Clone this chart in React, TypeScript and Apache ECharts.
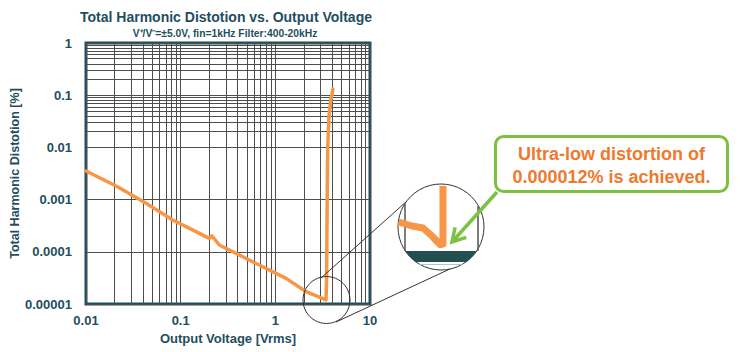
import React, { useEffect, useRef } from 'react';
import * as echarts from 'echarts';

// ---- data ----
const thdVoltage = [0.01, 0.0208, 0.0431, 0.0824, 0.145, 0.2, 0.214, 0.256, 0.576, 1.3, 2.11, 3.43, 3.48, 3.53, 3.57, 3.68, 3.86, 4.06];
const thdPercent = [0.00353, 0.00182, 0.000849, 0.000407, 0.000243, 0.000181, 0.000201, 0.000135, 0.0000646, 0.000031, 0.0000172, 0.000012, 0.00003, 0.001, 0.009, 0.038, 0.081, 0.131];

const xTickLabels = ['0.01', '0.1', '1', '10'];
const yTickLabels = ['0.00001', '0.0001', '0.001', '0.01', '0.1', '1'];
const minorMultipliers = [2, 3, 4, 5, 6, 7, 8, 9];
const xDecades = [0.01, 0.1, 1];
const yDecades = [0.00001, 0.0001, 0.001, 0.01, 0.1];

const titleText = 'Total Harmonic Distotion vs. Output Voltage';
const subtitleText = 'V\u207A/V\u207B=\u00B15.0V, fin=1kHz Filter:400-20kHz';
const xAxisName = 'Output Voltage [Vrms]';
const yAxisName = 'Total Harmonic Distotion [%]';
const calloutLines = ['Ultra-low distortion of', '0.000012% is achieved.'];

const TEAL = '#1F4E5E';
const ORANGE = '#F79646';
const TEXT_ORANGE = '#EE7A2F';
const GREEN = '#7DC143';
const GRIDC = '#4d4d4d';
const FONT = '"Liberation Sans", Arial, sans-serif';

function chordPolygon(cx: number, cy: number, r: number, y1: number, y2: number, n = 8): number[][] {
  const pts: number[][] = [];
  for (let i = 0; i <= n; i++) {
    const y = y1 + ((y2 - y1) * i) / n;
    const h = Math.sqrt(Math.max(0, r * r - (y - cy) * (y - cy)));
    pts.push([cx - h, y]);
  }
  for (let i = n; i >= 0; i--) {
    const y = y1 + ((y2 - y1) * i) / n;
    const h = Math.sqrt(Math.max(0, r * r - (y - cy) * (y - cy)));
    pts.push([cx + h, y]);
  }
  return pts;
}

function chordX(cx: number, cy: number, r: number, y: number) {
  const h = Math.sqrt(Math.max(0, r * r - (y - cy) * (y - cy)));
  return [cx - h, cx + h];
}

export default function App() {
  const ref = useRef<HTMLDivElement>(null);
  useEffect(() => {
    document.body.style.margin = '0';
    if (!ref.current) return;
    const chart = echarts.init(ref.current, undefined, { renderer: 'svg' });

    const xMinor: number[] = [];
    xDecades.forEach((d) => minorMultipliers.forEach((m) => xMinor.push(d * m)));
    const yMinor: number[] = [];
    yDecades.forEach((d) => minorMultipliers.forEach((m) => yMinor.push(d * m)));

    const labelFor = (labels: string[], base: number) => (v: number) => {
      const idx = Math.round(Math.log10(v)) - base;
      return labels[idx] ?? '';
    };

    // annotation geometry
    const bc = { x: 441, y: 227, r: 43 };
    const sc = { x: 326.5, y: 300, r: 23.5 };
    const tip = [452, 242];
    const tail = [497, 192];
    const dx = tip[0] - tail[0], dy = tip[1] - tail[1];
    const len = Math.hypot(dx, dy);
    const ux = dx / len, uy = dy / len;
    const px = -uy, py = ux;
    const hl = 13, hw = 7.5;
    const base = [tip[0] - ux * hl, tip[1] - uy * hl];
    const lightLine = chordX(bc.x, bc.y, bc.r, 264.5);

    chart.setOption({
      animation: false,
      textStyle: { fontFamily: FONT },
      grid: {
        left: 86, top: 43, width: 284, height: 261,
        show: true, borderColor: TEAL, borderWidth: 3, backgroundColor: 'transparent',
      },
      xAxis: {
        type: 'log', logBase: 10, min: 0.01, max: 10, interval: 1,
        name: xAxisName, nameLocation: 'middle', nameGap: 22,
        nameTextStyle: { color: TEAL, fontSize: 13, fontWeight: 'bold', fontFamily: FONT },
        axisLine: { show: false }, axisTick: { show: false },
        axisLabel: { color: TEAL, fontSize: 13, fontWeight: 'bold', margin: 10, fontFamily: FONT, formatter: labelFor(xTickLabels, -2) },
        splitLine: { show: true, lineStyle: { color: GRIDC, width: 1 } },
      },
      yAxis: {
        type: 'log', logBase: 10, min: 0.00001, max: 1, interval: 1,
        name: yAxisName, nameLocation: 'middle', nameGap: 51,
        nameTextStyle: { color: TEAL, fontSize: 12.5, fontWeight: 'bold', fontFamily: FONT },
        axisLine: { show: false }, axisTick: { show: false },
        axisLabel: { color: TEAL, fontSize: 13, fontWeight: 'bold', margin: 14, fontFamily: FONT, formatter: labelFor(yTickLabels, -5) },
        splitLine: { show: true, lineStyle: { color: GRIDC, width: 1 } },
      },
      series: [
        {
          type: 'line', z: 1, silent: true, symbol: 'none',
          data: [[0.01, 0.00001]],
          lineStyle: { opacity: 0 },
          markLine: {
            silent: true, symbol: ['none', 'none'], animation: false,
            label: { show: false },
            lineStyle: { color: GRIDC, width: 1, type: 'solid' },
            emphasis: { disabled: true },
            data: [
              ...xMinor.map((v) => ({ xAxis: v })),
              ...yMinor.map((v) => ({ yAxis: v })),
            ],
          },
        },
        {
          type: 'line', z: 5, silent: true, symbol: 'none',
          data: thdVoltage.map((v, i) => [v, thdPercent[i]]),
          lineStyle: { color: ORANGE, width: 3.5, join: 'round', cap: 'round' },
        },
      ],
      graphic: [
        { type: 'text', x: 226, y: 17, z: 100, style: { text: titleText, fill: TEAL, font: `bold 14px ${FONT}`, align: 'center', verticalAlign: 'middle' } },
        { type: 'text', x: 225, y: 33, z: 100, style: { text: subtitleText, fill: TEAL, font: `bold 10.3px ${FONT}`, align: 'center', verticalAlign: 'middle' } },
        // small circle on the plot
        { type: 'circle', z: 100, shape: { cx: sc.x, cy: sc.y, r: sc.r }, style: { fill: 'none', stroke: '#333', lineWidth: 1 } },
        // tangent lines
        { type: 'line', z: 100, shape: { x1: 321, y1: 278, x2: 407, y2: 201 }, style: { stroke: '#333', lineWidth: 1 } },
        { type: 'line', z: 100, shape: { x1: 336, y1: 322, x2: 452, y2: 268 }, style: { stroke: '#333', lineWidth: 1 } },
        // magnified circle
        { type: 'circle', z: 100, shape: { cx: bc.x, cy: bc.y, r: bc.r }, style: { fill: '#fff', stroke: '#333', lineWidth: 1 } },
        { type: 'line', z: 101, shape: { x1: 405, y1: 204, x2: 405, y2: 251 }, style: { stroke: '#555', lineWidth: 1.5 } },
        { type: 'line', z: 101, shape: { x1: 478, y1: 206, x2: 478, y2: 251 }, style: { stroke: '#555', lineWidth: 1.5 } },
        { type: 'polygon', z: 101, shape: { points: chordPolygon(bc.x, bc.y, bc.r, 251, 262) }, style: { fill: '#234E52' } },
        { type: 'line', z: 101, shape: { x1: lightLine[0], y1: 264.5, x2: lightLine[1], y2: 264.5 }, style: { stroke: '#a9c9d2', lineWidth: 1 } },
        { type: 'polyline', z: 102, shape: { points: [[398.5, 222], [412, 226], [423, 228], [432, 236], [440, 244.5], [443, 244], [443, 186]] }, style: { stroke: ORANGE, lineWidth: 7, lineJoin: 'round', lineCap: 'butt', fill: 'none' } },
        // green arrow
        { type: 'line', z: 103, shape: { x1: tail[0], y1: tail[1], x2: tip[0] - ux * 2, y2: tip[1] - uy * 2 }, style: { stroke: GREEN, lineWidth: 3.5 } },
        { type: 'polyline', z: 103, shape: { points: [[base[0] + px * hw, base[1] + py * hw], tip, [base[0] - px * hw, base[1] - py * hw]] }, style: { stroke: GREEN, lineWidth: 3.5, fill: 'none', lineJoin: 'miter' } },
        // callout
        { type: 'rect', z: 104, shape: { x: 495.5, y: 136.5, width: 232, height: 55, r: 8 }, style: { fill: '#fff', stroke: GREEN, lineWidth: 3 } },
        { type: 'text', x: 611.5, y: 153.5, z: 105, style: { text: calloutLines[0], fill: TEXT_ORANGE, font: `bold 18px ${FONT}`, align: 'center', verticalAlign: 'middle' } },
        { type: 'text', x: 611.5, y: 177, z: 105, style: { text: calloutLines[1], fill: TEXT_ORANGE, font: `bold 18px ${FONT}`, align: 'center', verticalAlign: 'middle' } },
      ],
    });
    return () => chart.dispose();
  }, []);
  return <div ref={ref} style={{ width: 740, height: 352 }} />;
}
